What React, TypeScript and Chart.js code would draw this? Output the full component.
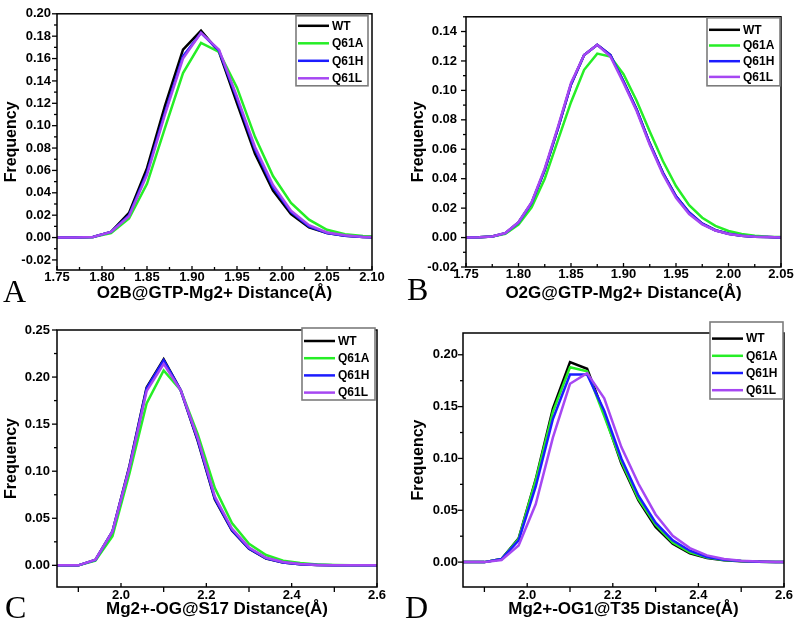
import React, { useEffect, useRef } from 'react';
import { Chart, registerables } from 'chart.js';

Chart.register(...registerables);

const FONT = "'Liberation Sans', Arial, Helvetica, sans-serif";
const SERIF = "'Liberation Serif', 'Times New Roman', serif";

const SERIES = ['WT', 'Q61A', 'Q61H', 'Q61L'];
const SERIES_COLORS = ['#000000', '#26ee26', '#1c1cff', '#a647f2'];

// ---------- Panel A: O2B@GTP-Mg2+ ----------
const A_DIST = [1.75, 1.77, 1.79, 1.81, 1.83, 1.85, 1.87, 1.89, 1.91, 1.93, 1.95, 1.97, 1.99, 2.01, 2.03, 2.05, 2.07, 2.09, 2.11];
const A_WT = [0, 0, 0.0005, 0.005, 0.022, 0.062, 0.118, 0.168, 0.185, 0.166, 0.12, 0.075, 0.042, 0.021, 0.009, 0.004, 0.0015, 0.0005, 0.0002];
const A_Q61A = [0, 0, 0.0005, 0.004, 0.017, 0.048, 0.098, 0.147, 0.174, 0.166, 0.134, 0.09, 0.055, 0.031, 0.016, 0.007, 0.003, 0.0015, 0.0008];
const A_Q61H = [0, 0, 0.0005, 0.005, 0.02, 0.058, 0.112, 0.162, 0.183, 0.167, 0.124, 0.079, 0.045, 0.023, 0.01, 0.004, 0.0015, 0.0005, 0.0002];
const A_Q61L = [0, 0, 0.0005, 0.005, 0.019, 0.056, 0.11, 0.16, 0.183, 0.168, 0.126, 0.081, 0.047, 0.024, 0.011, 0.0045, 0.002, 0.0006, 0.0002];
const A_X_TICKS = [1.75, 1.8, 1.85, 1.9, 1.95, 2.0, 2.05, 2.1];
const A_Y_TICKS = [-0.02, 0, 0.02, 0.04, 0.06, 0.08, 0.1, 0.12, 0.14, 0.16, 0.18, 0.2];

// ---------- Panel B: O2G@GTP-Mg2+ ----------
const B_DIST = [1.75, 1.7625, 1.775, 1.7875, 1.8, 1.8125, 1.825, 1.8375, 1.85, 1.8625, 1.875, 1.8875, 1.9, 1.9125, 1.925, 1.9375, 1.95, 1.9625, 1.975, 1.9875, 2.0, 2.0125, 2.025, 2.0375, 2.05];
const B_WT = [0, 0.0002, 0.0008, 0.003, 0.0102, 0.0235, 0.046, 0.074, 0.104, 0.124, 0.131, 0.124, 0.106, 0.087, 0.064, 0.044, 0.028, 0.017, 0.0095, 0.005, 0.0026, 0.0013, 0.0006, 0.0003, 0.0001];
const B_Q61A = [0, 0.0002, 0.0007, 0.0025, 0.0088, 0.0205, 0.04, 0.066, 0.092, 0.114, 0.125, 0.123, 0.111, 0.093, 0.072, 0.052, 0.035, 0.022, 0.0135, 0.008, 0.0045, 0.0025, 0.0013, 0.0006, 0.0003];
const B_Q61H = [0, 0.0002, 0.0008, 0.003, 0.0102, 0.0235, 0.046, 0.074, 0.104, 0.124, 0.131, 0.124, 0.106, 0.087, 0.064, 0.044, 0.028, 0.017, 0.0095, 0.005, 0.0026, 0.0013, 0.0006, 0.0003, 0.0001];
const B_Q61L = [0, 0.0002, 0.0008, 0.0031, 0.0105, 0.024, 0.047, 0.075, 0.105, 0.124, 0.131, 0.123, 0.105, 0.086, 0.063, 0.043, 0.027, 0.016, 0.009, 0.0048, 0.0024, 0.0012, 0.0006, 0.0003, 0.0001];
const B_X_TICKS = [1.75, 1.8, 1.85, 1.9, 1.95, 2.0, 2.05];
const B_Y_TICKS = [-0.02, 0, 0.02, 0.04, 0.06, 0.08, 0.1, 0.12, 0.14];

// ---------- Panel C: Mg2+-OG@S17 ----------
const C_DIST = [1.82, 1.86, 1.9, 1.94, 1.98, 2.02, 2.06, 2.1, 2.14, 2.18, 2.22, 2.26, 2.3, 2.34, 2.38, 2.42, 2.46, 2.5, 2.54, 2.58, 2.62];
const C_WT = [0, 0, 0, 0.0057, 0.036, 0.106, 0.189, 0.219, 0.186, 0.132, 0.07, 0.037, 0.0175, 0.0072, 0.003, 0.0012, 0.0005, 0.0002, 0, 0, 0];
const C_Q61A = [0, 0, 0, 0.005, 0.031, 0.098, 0.172, 0.207, 0.186, 0.139, 0.082, 0.045, 0.023, 0.011, 0.005, 0.0025, 0.001, 0.0005, 0.0002, 0, 0];
const C_Q61H = [0, 0, 0, 0.0057, 0.036, 0.105, 0.188, 0.218, 0.186, 0.133, 0.071, 0.0375, 0.018, 0.0074, 0.003, 0.0012, 0.0005, 0.0002, 0, 0, 0];
const C_Q61L = [0, 0, 0, 0.006, 0.036, 0.104, 0.185, 0.214, 0.186, 0.135, 0.073, 0.039, 0.019, 0.008, 0.0035, 0.0014, 0.0005, 0.0002, 0, 0, 0];
const C_X_TICKS = [2.0, 2.2, 2.4, 2.6];
const C_Y_TICKS = [0, 0.05, 0.1, 0.15, 0.2, 0.25];

// ---------- Panel D: Mg2+-OG1@T35 ----------
const D_DIST = [1.82, 1.86, 1.9, 1.94, 1.98, 2.02, 2.06, 2.1, 2.14, 2.18, 2.22, 2.26, 2.3, 2.34, 2.38, 2.42, 2.46, 2.5, 2.54, 2.58, 2.62];
const D_WT = [0, 0, 0, 0.003, 0.023, 0.08, 0.148, 0.193, 0.1865, 0.143, 0.095, 0.0595, 0.0338, 0.0177, 0.0085, 0.004, 0.0018, 0.0008, 0.0003, 0.0001, 0];
const D_Q61A = [0, 0, 0, 0.003, 0.0225, 0.079, 0.145, 0.188, 0.184, 0.141, 0.097, 0.061, 0.036, 0.019, 0.0095, 0.0045, 0.002, 0.001, 0.0003, 0.0001, 0];
const D_Q61H = [0, 0, 0, 0.003, 0.021, 0.073, 0.138, 0.181, 0.181, 0.146, 0.1, 0.064, 0.038, 0.021, 0.011, 0.005, 0.0022, 0.001, 0.0004, 0.0001, 0];
const D_Q61L = [0, 0, 0, 0.002, 0.016, 0.056, 0.12, 0.172, 0.1823, 0.158, 0.111, 0.0756, 0.046, 0.0254, 0.0135, 0.0065, 0.003, 0.0013, 0.0005, 0.0002, 0];
const D_X_TICKS = [2.0, 2.2, 2.4, 2.6];
const D_Y_TICKS = [0, 0.05, 0.1, 0.15, 0.2];

type PanelCfg = {
  letter: string;
  xTitle: string;
  dist: number[];
  series: number[][];
  xMin: number; xMax: number; yMin: number; yMax: number;
  xTicks: number[]; yTicks: number[]; xDec: number; yDec: number;
  left: number; top: number; w: number; h: number;
  padTop: number; padRight: number; yAxisW: number; xAxisH: number;
  yTickPad: number; xTickPad: number; yTitlePad: number; xTitlePad: number;
  xTickIn: boolean;
  legend: { dr: number; dt: number; w: number; h: number; first: number; gap: number };
  letterX: number; letterY: number;
};

const PANELS: PanelCfg[] = [
  {
    letter: 'A', xTitle: 'O2B@GTP-Mg2+ Distance(Å)',
    dist: A_DIST, series: [A_WT, A_Q61A, A_Q61H, A_Q61L],
    xMin: 1.75, xMax: 2.1, yMin: -0.029, yMax: 0.2,
    xTicks: A_X_TICKS, yTicks: A_Y_TICKS, xDec: 2, yDec: 2,
    left: 0, top: 0, w: 398, h: 315,
    padTop: 11, padRight: 26, yAxisW: 57, xAxisH: 45,
    yTickPad: 6, xTickPad: 0, yTitlePad: 2, xTitlePad: 11,
    xTickIn: true,
    legend: { dr: 4, dt: 2, w: 72, h: 70, first: 10, gap: 17.5 },
    letterX: 3, letterY: 302,
  },
  {
    letter: 'B', xTitle: 'O2G@GTP-Mg2+ Distance(Å)',
    dist: B_DIST, series: [B_WT, B_Q61A, B_Q61H, B_Q61L],
    xMin: 1.75, xMax: 2.05, yMin: -0.02, yMax: 0.15,
    xTicks: B_X_TICKS, yTicks: B_Y_TICKS, xDec: 2, yDec: 2,
    left: 398, top: 0, w: 399, h: 315,
    padTop: 11, padRight: 16, yAxisW: 68, xAxisH: 48,
    yTickPad: 9, xTickPad: 0, yTitlePad: 11, xTitlePad: 11,
    xTickIn: true,
    legend: { dr: 1, dt: 1, w: 73, h: 68, first: 12, gap: 15.7 },
    letterX: 9, letterY: 300,
  },
  {
    letter: 'C', xTitle: 'Mg2+-OG@S17 Distance(Å)',
    dist: C_DIST, series: [C_WT, C_Q61A, C_Q61H, C_Q61L],
    xMin: 1.85, xMax: 2.6, yMin: -0.023, yMax: 0.25,
    xTicks: C_X_TICKS, yTicks: C_Y_TICKS, xDec: 1, yDec: 2,
    left: 0, top: 315, w: 398, h: 315,
    padTop: 15, padRight: 21, yAxisW: 57, xAxisH: 43,
    yTickPad: 7, xTickPad: 1, yTitlePad: 2, xTitlePad: 10,
    xTickIn: false,
    legend: { dr: 2, dt: -2, w: 73, h: 72, first: 13, gap: 17.2 },
    letterX: 5, letterY: 303,
  },
  {
    letter: 'D', xTitle: 'Mg2+-OG1@T35 Distance(Å)',
    dist: D_DIST, series: [D_WT, D_Q61A, D_Q61H, D_Q61L],
    xMin: 1.85, xMax: 2.6, yMin: -0.024, yMax: 0.221,
    xTicks: D_X_TICKS, yTicks: D_Y_TICKS, xDec: 1, yDec: 2,
    left: 398, top: 315, w: 399, h: 315,
    padTop: 18, padRight: 13, yAxisW: 65, xAxisH: 43,
    yTickPad: 5, xTickPad: 1, yTitlePad: 11, xTitlePad: 10,
    xTickIn: false,
    legend: { dr: 1, dt: -11, w: 73, h: 77, first: 16.6, gap: 17.2 },
    letterX: 7, letterY: 303,
  },
];

function minorTicks(majors: number[], min: number, max: number): number[] {
  const step = majors[1] - majors[0];
  const out: number[] = [];
  for (let i = -1; i < majors.length; i++) {
    const v = majors[0] + (i + 0.5) * step;
    if (v >= min - 1e-9 && v <= max + 1e-9) out.push(v);
  }
  return out;
}

const decorPlugin = {
  id: 'decor',
  afterDraw(chart: any, _args: any, opts: any) {
    const { ctx, chartArea: ca, scales } = chart;
    const xs = scales.x;
    const ys = scales.y;
    const cfg: PanelCfg = opts.cfg;
    ctx.save();
    // frame
    ctx.strokeStyle = '#000';
    ctx.lineWidth = 1.5;
    ctx.strokeRect(ca.left, ca.top, ca.right - ca.left, ca.bottom - ca.top);
    // ticks
    ctx.lineWidth = 1.3;
    const drawX = (vals: number[], len: number) => {
      vals.forEach((v) => {
        const px = xs.getPixelForValue(v);
        if (px < ca.left - 0.5 || px > ca.right + 0.5) return;
        ctx.beginPath();
        ctx.moveTo(px, ca.bottom);
        ctx.lineTo(px, ca.bottom + len);
        ctx.stroke();
      });
    };
    const drawY = (vals: number[], len: number) => {
      vals.forEach((v) => {
        const py = ys.getPixelForValue(v);
        if (py < ca.top - 0.5 || py > ca.bottom + 0.5) return;
        ctx.beginPath();
        ctx.moveTo(ca.left, py);
        ctx.lineTo(ca.left - len, py);
        ctx.stroke();
      });
    };
    if (cfg.xTickIn) {
      drawX(cfg.xTicks, -4);
      drawX(minorTicks(cfg.xTicks, cfg.xMin, cfg.xMax), -3);
    } else {
      drawX(cfg.xTicks, -4);
      drawX(minorTicks(cfg.xTicks, cfg.xMin, cfg.xMax), 5);
    }
    drawY(cfg.yTicks, 5);
    drawY(minorTicks(cfg.yTicks, cfg.yMin, cfg.yMax), 3);

    // legend
    const lg = cfg.legend;
    const bx = ca.right - lg.dr - lg.w;
    const by = ca.top + lg.dt;
    ctx.fillStyle = '#ffffff';
    ctx.fillRect(bx, by, lg.w, lg.h);
    ctx.strokeStyle = '#7c7c7c';
    ctx.lineWidth = 1.6;
    ctx.strokeRect(bx, by, lg.w, lg.h);
    ctx.font = `bold 12px ${FONT}`;
    ctx.textBaseline = 'middle';
    ctx.textAlign = 'left';
    chart.data.datasets.forEach((ds: any, i: number) => {
      const yy = by + lg.first + i * lg.gap;
      ctx.strokeStyle = ds.borderColor;
      ctx.lineWidth = 2.5;
      ctx.beginPath();
      ctx.moveTo(bx + 2, yy);
      ctx.lineTo(bx + 33, yy);
      ctx.stroke();
      ctx.fillStyle = '#000';
      ctx.fillText(ds.label, bx + 36, yy + 0.5);
    });

    // panel letter
    ctx.fillStyle = '#000';
    ctx.font = `32px ${SERIF}`;
    ctx.textBaseline = 'alphabetic';
    ctx.textAlign = 'left';
    ctx.fillText(cfg.letter, cfg.letterX, cfg.letterY);
    ctx.restore();
  },
};

function Panel({ cfg }: { cfg: PanelCfg }) {
  const ref = useRef<HTMLCanvasElement>(null);
  useEffect(() => {
    const canvas = ref.current;
    if (!canvas) return;
    const chart = new Chart(canvas, {
      type: 'line',
      data: {
        datasets: SERIES.map((name, i) => ({
          label: name,
          data: cfg.dist.map((d, j) => ({ x: d, y: cfg.series[i][j] })),
          borderColor: SERIES_COLORS[i],
          backgroundColor: SERIES_COLORS[i],
          borderWidth: 2.5,
          pointRadius: 0,
          tension: 0,
          fill: false,
          clip: 0,
          order: SERIES.length - i,
        })),
      },
      options: {
        responsive: false,
        animation: false,
        devicePixelRatio: 1,
        events: [],
        layout: { padding: { left: 0, top: cfg.padTop, right: cfg.padRight, bottom: 0 } },
        plugins: {
          legend: { display: false },
          tooltip: { enabled: false },
          decor: { cfg },
        } as any,
        scales: {
          x: {
            type: 'linear',
            min: cfg.xMin,
            max: cfg.xMax,
            afterBuildTicks: (s: any) => {
              s.ticks = cfg.xTicks.map((v) => ({ value: v }));
            },
            afterFit: (s: any) => {
              s.height = cfg.xAxisH;
            },
            grid: { display: false, drawTicks: false },
            border: { display: false },
            ticks: {
              autoSkip: false,
              maxRotation: 0,
              padding: cfg.xTickPad,
              color: '#000',
              font: { family: FONT, size: 13, weight: 'bold' },
              callback: (v: any) => Number(v).toFixed(cfg.xDec),
            },
            title: {
              display: true,
              text: cfg.xTitle,
              color: '#000',
              font: { family: FONT, size: 17, weight: 'bold' },
              padding: { top: 0, bottom: cfg.xTitlePad },
            },
          },
          y: {
            type: 'linear',
            min: cfg.yMin,
            max: cfg.yMax,
            afterBuildTicks: (s: any) => {
              s.ticks = cfg.yTicks.map((v) => ({ value: v }));
            },
            afterFit: (s: any) => {
              s.width = cfg.yAxisW;
            },
            grid: { display: false, drawTicks: false },
            border: { display: false },
            ticks: {
              autoSkip: false,
              padding: cfg.yTickPad,
              color: '#000',
              font: { family: FONT, size: 13, weight: 'bold' },
              callback: (v: any) => Number(v).toFixed(cfg.yDec),
            },
            title: {
              display: true,
              text: 'Frequency',
              color: '#000',
              font: { family: FONT, size: 16, weight: 'bold' },
              padding: { top: cfg.yTitlePad, bottom: 0 },
            },
          },
        },
      } as any,
      plugins: [decorPlugin],
    });
    return () => chart.destroy();
  }, [cfg]);
  return (
    <canvas
      ref={ref}
      width={cfg.w}
      height={cfg.h}
      style={{ position: 'absolute', left: cfg.left, top: cfg.top, width: cfg.w, height: cfg.h }}
    />
  );
}

export default function App() {
  return (
    <div
      style={{
        position: 'absolute',
        left: 0,
        top: 0,
        width: 797,
        height: 630,
        background: '#ffffff',
        overflow: 'hidden',
      }}
    >
      {PANELS.map((p) => (
        <Panel key={p.letter} cfg={p} />
      ))}
    </div>
  );
}
